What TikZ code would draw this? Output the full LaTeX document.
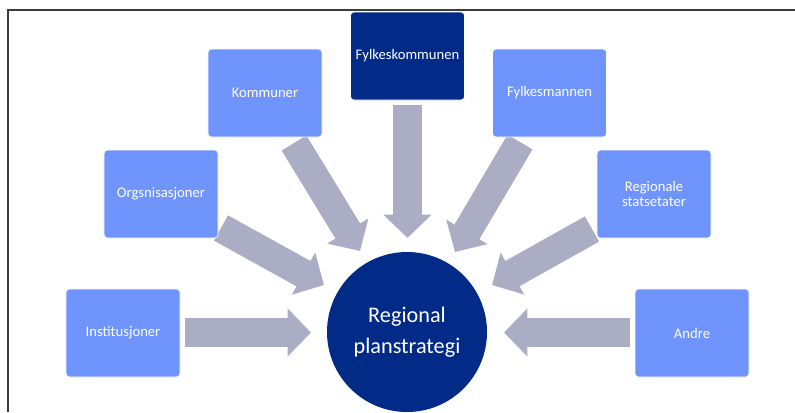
\documentclass[tikz,border=0pt]{standalone}
\usepackage{fontspec}
\setmainfont{Carlito}
\usepackage{tikz}
\usetikzlibrary{arrows.meta, positioning, backgrounds}
\definecolor{boxblue}{RGB}{111,148,252}
\definecolor{darknavy}{RGB}{2,42,135}
\definecolor{arrowgray}{RGB}{171,173,196}
\definecolor{framegray}{RGB}{60,60,60}

\begin{document}
\begin{tikzpicture}[x=0.03cm, y=-0.03cm,
    actor/.style={draw=white, line width=0.6pt, rounded corners=3pt, fill=boxblue, text=white,
        minimum width=3.42cm, minimum height=2.64cm, align=center, font=\fontsize{12.5}{13.5}\selectfont},
    bigarrow/.style={arrowgray, line width=24.7pt, -{Triangle[width=40pt, length=20pt]}}]
    \useasboundingbox (0,0) rectangle (795,412);
    % Frame
    \draw[framegray, line width=1.3pt] (8,412) -- (8,10) -- (795,10);

    % Centre
    \node[circle, fill=darknavy, text=white, minimum size=4.8cm, align=center,
        font=\fontsize{19}{26}\selectfont] (plan) at (407,332) {Regional\\planstrategi};

    % Actors
    \node[actor, fill=darknavy] (fk) at (407.5,56) {Fylkeskommunen};
    \node[actor] (kom) at (265,93) {Kommuner};
    \node[actor] (fm) at (549.5,93) {Fylkesmannen};
    \node[actor] (org) at (161,194) {Orgsnisasjoner};
    \node[actor] (reg) at (654,194) {Regionale\\statsetater};
    \node[actor] (inst) at (123,333) {Institusjoner};
    \node[actor] (andre) at (692,333) {Andre};

    % Arrow ends
    \coordinate (inst-a) at (185,332.5);  \coordinate (inst-b) at (311,332.5);
    \coordinate (org-a) at (221,228);     \coordinate (org-b) at (324,285);
    \coordinate (kom-a) at (294,143);     \coordinate (kom-b) at (360,251);
    \coordinate (fk-a) at (407.5,105);    \coordinate (fk-b) at (407.5,238);
    \coordinate (fm-a) at (520,142);      \coordinate (fm-b) at (455,252);
    \coordinate (reg-a) at (592,229);     \coordinate (reg-b) at (492,285);
    \coordinate (andre-a) at (630,332.5); \coordinate (andre-b) at (504,332.5);

    \begin{scope}[on background layer]
        \draw[bigarrow] (inst-a) -- (inst-b);
        \draw[bigarrow] (org-a) -- (org-b);
        \draw[bigarrow] (kom-a) -- (kom-b);
        \draw[bigarrow] (fk-a) -- (fk-b);
        \draw[bigarrow] (fm-a) -- (fm-b);
        \draw[bigarrow] (reg-a) -- (reg-b);
        \draw[bigarrow] (andre-a) -- (andre-b);
    \end{scope}
\end{tikzpicture}
\end{document}
